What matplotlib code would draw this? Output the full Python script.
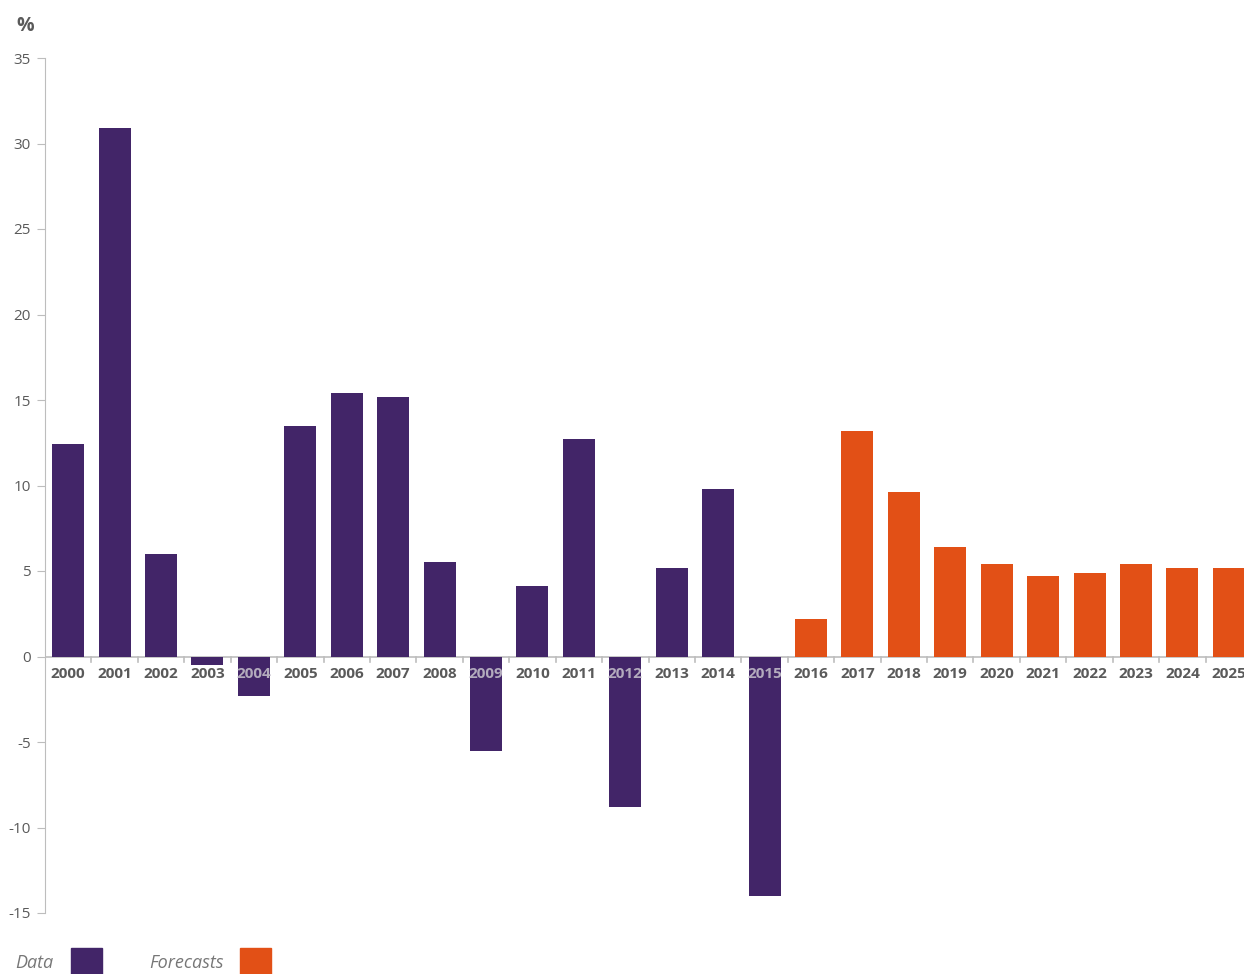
import matplotlib.pyplot as plt
from matplotlib.patches import Rectangle

years = [str(y) for y in range(2000, 2026)]
actual = [12.4, 30.9, 6.0, -0.5, -2.3, 13.5, 15.4, 15.2, 5.5, -5.5,
          4.1, 12.7, -8.8, 5.2, 9.8, -14.0]
forecast = [2.2, 13.2, 9.6, 6.4, 5.4, 4.7, 4.9, 5.4, 5.2, 5.2]
yticks = [35, 30, 25, 20, 15, 10, 5, 0, -5, -10, -15]

purple = '#422568'
orange = '#e25016'
grey = '#5a5a5a'
axis_grey = '#bdbdbd'

plt.rcParams['font.family'] = ['Open Sans', 'DejaVu Sans']

fig = plt.figure(figsize=(12.44, 9.74), dpi=100)
ax = fig.add_axes([45 / 1244, 1 - 913 / 974, 1207 / 1244, 855 / 974])

n_act = len(actual)
x_act = list(range(n_act))
x_fc = list(range(n_act, n_act + len(forecast)))
ax.bar(x_act, actual, width=0.69, color=purple, zorder=2)
ax.bar(x_fc, forecast, width=0.69, color=orange, zorder=2)

ax.set_xlim(-0.5, len(years) - 0.5)
ax.set_ylim(-15, 35)

for s in ['top', 'right', 'bottom']:
    ax.spines[s].set_visible(False)
ax.spines['left'].set_color(axis_grey)
ax.axhline(0, color=axis_grey, lw=1.2, zorder=1)

ax.set_yticks(yticks)
ax.set_yticklabels([str(v) for v in yticks], fontsize=11, color=grey)
ax.tick_params(axis='y', length=6, color=axis_grey, pad=4)

# category boundary ticks hanging below the zero line
ax.set_xticks([])
for i in range(1, len(years)):
    ax.plot([i - 0.5, i - 0.5], [0, -0.35], color=axis_grey, lw=1.2, zorder=1)

values = actual + forecast
for i, (yr, v) in enumerate(zip(years, values)):
    col = '#b3abbd' if v < -0.6 else grey
    ax.text(i, -1.0, yr, ha='center', va='center', fontsize=11,
            fontweight='bold', color=col, zorder=3)

fig.text(16 / 1244, 1 - 26 / 974, '%', fontsize=14, fontweight='bold',
         color=grey, ha='left', va='center')

# legend along the bottom edge
fig.text(15 / 1244, 1 - 963 / 974, 'Data', fontsize=13, style='italic',
         color='#777777', ha='left', va='center')
fig.patches.append(Rectangle((71 / 1244, 1 - 975 / 974), 31 / 1244, 27 / 974,
                             transform=fig.transFigure, color=purple))
fig.text(149 / 1244, 1 - 963 / 974, 'Forecasts', fontsize=13, style='italic',
         color='#777777', ha='left', va='center')
fig.patches.append(Rectangle((240 / 1244, 1 - 975 / 974), 31 / 1244, 27 / 974,
                             transform=fig.transFigure, color=orange))

fig.savefig('out.png', dpi=100)
